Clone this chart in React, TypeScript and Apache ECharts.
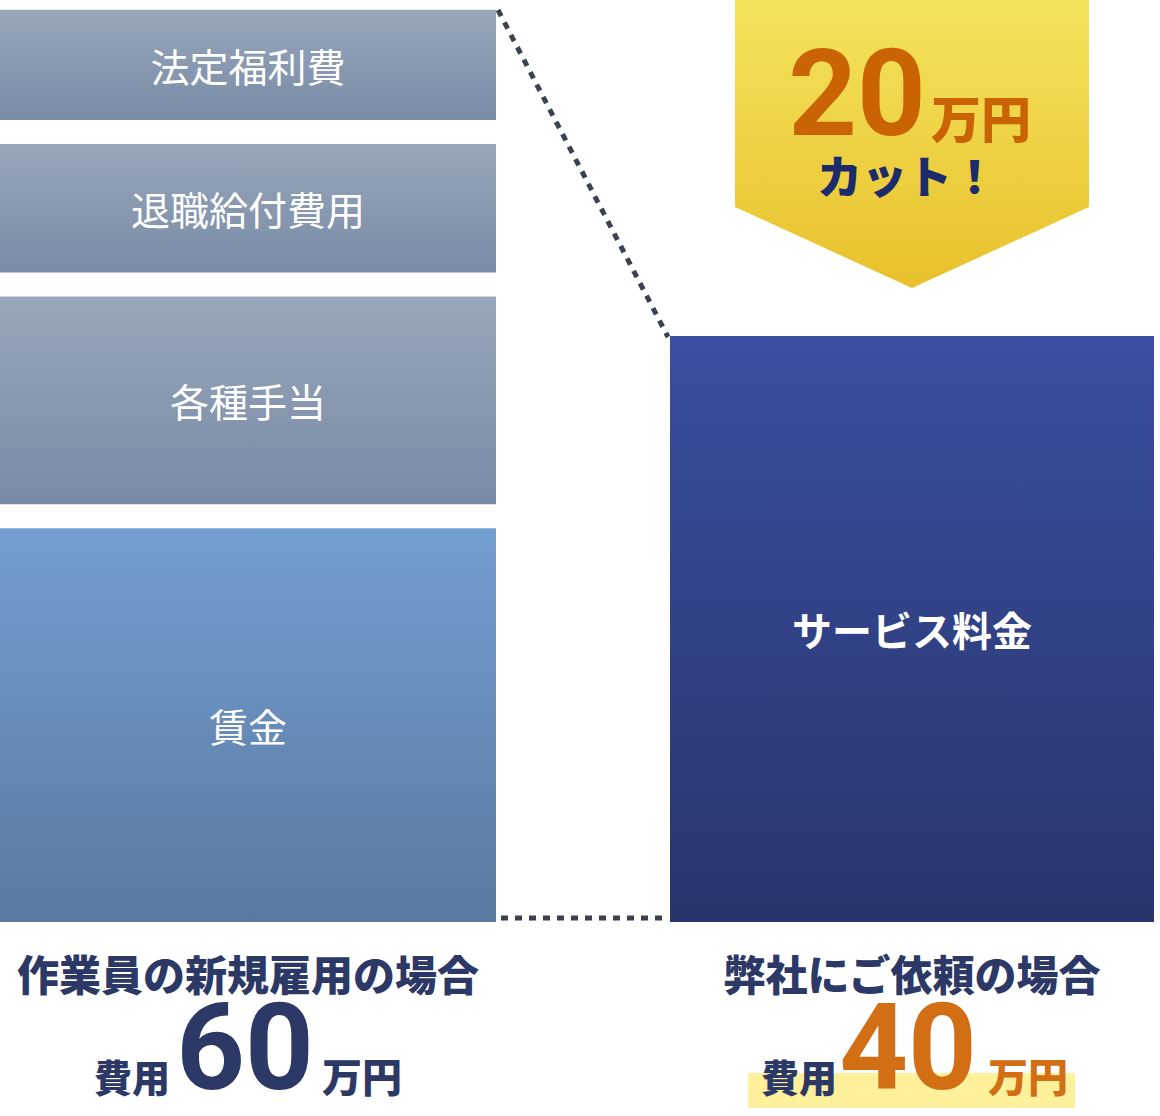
import React, { useEffect, useRef } from 'react';
import * as echarts from 'echarts';

// 費用の内訳 (万円, 図から読み取った概算)
const categories = ['作業員の新規雇用の場合', '弊社にご依頼の場合'];
const hireItems = ['賃金', '各種手当', '退職給付費用', '法定福利費'];
const hireValues = [27.4, 15.2, 10.0, 8.8];
const serviceItem = 'サービス料金';
const serviceValue = 40;
const totals = [60, 40];

const JP = '"Noto Sans CJK JP", "Noto Sans", sans-serif';
const NUM = 'Roboto, "Noto Sans", sans-serif';
const NAVY = '#2c3866';
const ORANGE = '#d26e14';

const grad = (top: string, bottom: string) =>
  new echarts.graphic.LinearGradient(0, 0, 0, 1, [
    { offset: 0, color: top },
    { offset: 1, color: bottom },
  ]);

const hireColors: [string, string][] = [
  ['#739ed1', '#5a799f'],
  ['#99a7bb', '#778aa5'],
  ['#99a7bb', '#778aa5'],
  ['#99a7bb', '#778aa5'],
];

// both stacks share a category band; the gap places each one under its own category
const BAR_GAP = '-82.115%';

export default function App() {
  const ref = useRef<HTMLDivElement>(null);

  useEffect(() => {
    if (!ref.current) return;
    const chart = echarts.init(ref.current, null, { renderer: 'svg' });
    const cut = totals[0] - totals[1];

    const barLabel = (bold: boolean) => ({
      show: true,
      position: 'inside',
      formatter: '{a}',
      color: '#fff',
      fontSize: bold ? 40 : 39,
      fontWeight: bold ? 'bold' : 'normal',
      fontFamily: JP,
    });

    const hireSeries = hireItems.map((name, i) => ({
      name,
      type: 'bar',
      stack: 'hire',
      barWidth: 520,
      barGap: BAR_GAP,
      clip: false,
      data: [hireValues[i], '-'],
      itemStyle: {
        color: grad(hireColors[i][0], hireColors[i][1]),
        borderColor: '#fff',
        borderWidth: 12,
      },
      label: barLabel(false),
    }));

    const serviceSeries = {
      name: serviceItem,
      type: 'bar',
      stack: 'service',
      barWidth: 508,
      barGap: BAR_GAP,
      clip: false,
      data: ['-', serviceValue],
      itemStyle: {
        color: grad('#3a4fa1', '#28346b'),
        borderColor: '#fff',
        borderWidth: 12,
      },
      label: barLabel(true),
    };

    const jp = (text: string, x: number, y: number, size: number, fill: string, weight = 'bold') => ({
      type: 'text',
      x,
      y,
      z: 10,
      style: {
        text,
        fill,
        font: `${weight} ${size}px ${JP}`,
        lineHeight: Math.round(size * 1.05),
        align: 'center',
        verticalAlign: 'middle',
      },
    });

    const num = (text: string, x: number, y: number, fill: string) => ({
      type: 'text',
      x,
      y,
      z: 10,
      style: {
        text,
        fill,
        font: `bold 120px ${NUM}`,
        lineHeight: 90,
        align: 'center',
        verticalAlign: 'middle',
      },
    });

    chart.setOption({
      animation: false,
      grid: { left: 0, right: 6, top: 0, bottom: 182 },
      xAxis: { type: 'category', data: categories, show: false },
      yAxis: { type: 'value', min: 0, max: 61.25, show: false },
      series: [...hireSeries, serviceSeries],
      graphic: [
        // 点線
        {
          type: 'line',
          z: 5,
          shape: { x1: 498, y1: 10, x2: 668, y2: 337 },
          style: { stroke: '#3b4150', lineWidth: 5, lineDash: [7, 7] },
        },
        {
          type: 'line',
          z: 5,
          shape: { x1: 501, y1: 918, x2: 668, y2: 918 },
          style: { stroke: '#3b4150', lineWidth: 5, lineDash: [7, 7] },
        },
        // 削減額バッジ
        {
          type: 'polygon',
          z: 5,
          shape: {
            points: [
              [735, 0],
              [1089, 0],
              [1089, 207],
              [912, 288],
              [735, 207],
            ],
          },
          style: { fill: grad('#f4e35c', '#e8c12c') },
        },
        num(String(cut), 857, 94, '#c96303'),
        jp('万円', 981, 116, 50, '#c96303', '900'),
        jp('カット！', 907, 174, 45, '#1b2b6c', '900'),
        // 下部ラベル
        jp(categories[0], 248, 972, 42, NAVY, '900'),
        jp(categories[1], 912, 972, 42, NAVY, '900'),
        jp('費用', 132, 1075, 38, NAVY, '900'),
        num(String(totals[0]), 245, 1048, NAVY),
        jp('万円', 362, 1075, 40, NAVY, '900'),
        {
          type: 'rect',
          z: 6,
          shape: { x: 748, y: 1073, width: 327, height: 35 },
          style: { fill: '#fff09b' },
        },
        jp('費用', 799, 1075, 38, NAVY, '900'),
        num(String(totals[1]), 908, 1048, ORANGE),
        jp('万円', 1028, 1075, 40, ORANGE, '900'),
      ],
    });

    return () => chart.dispose();
  }, []);

  return (
    <div
      ref={ref}
      style={{ position: 'absolute', left: 0, top: 0, width: 1160, height: 1116, background: '#fff' }}
    />
  );
}
